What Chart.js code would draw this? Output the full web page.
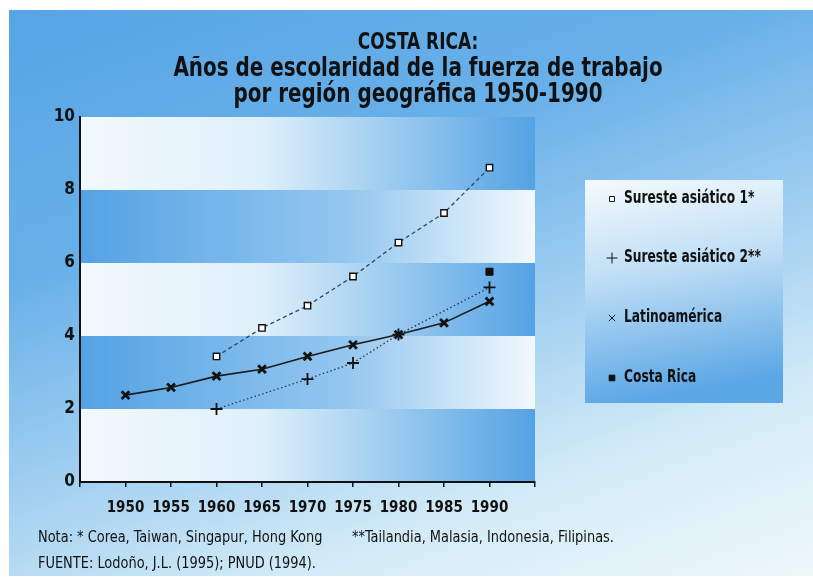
<!DOCTYPE html>
<html>
<head>
<meta charset="utf-8">
<script src="https://cdn.jsdelivr.net/npm/chart.js@4.4.0/dist/chart.umd.min.js"></script>
<style>
  html, body { margin: 0; padding: 0; }
  body { width: 813px; height: 581px; overflow: hidden; background: #fff; position: relative;
         font-family: "DejaVu Sans Condensed", "Liberation Sans Narrow", sans-serif; color: #111; }
  #panel { position: absolute; left: 9px; top: 10px; width: 804px; height: 566px;
           background: linear-gradient(160deg, #58a5e6 0%, #68b0e9 32%, #9dcdf0 55%, #d3ebf7 78%, #eef8fb 100%); }
  #chart { position: absolute; left: 0; top: 0; }
  .t { position: absolute; left: 0; width: 836px; text-align: center; font-weight: bold; white-space: nowrap;
       transform: scaleX(0.82); transform-origin: 50% 50%; }
  .note { position: absolute; left: 38px; font-size: 16px; white-space: nowrap;
          transform: scaleX(0.9); transform-origin: 0 50%; }
</style>
</head>
<body>
<div id="panel"></div>
<canvas id="chart" width="813" height="581"></canvas>
<div class="t" style="top:30px;font-size:23px;line-height:23px;">COSTA RICA:</div>
<div class="t" style="top:53px;font-size:27px;line-height:27px;">Años de escolaridad de la fuerza de trabajo</div>
<div class="t" style="top:79px;font-size:27px;line-height:27px;">por región geográfica 1950-1990</div>
<div class="note" style="top:527px;">Nota: * Corea, Taiwan, Singapur, Hong Kong<span style="position:absolute;left:349px;">**Tailandia, Malasia, Indonesia, Filipinas.</span></div>
<div class="note" style="top:553px;">FUENTE: Lodoño, J.L. (1995); PNUD (1994).</div>
<script>
document.addEventListener('DOMContentLoaded', () => {

// DATA
const years = [1950, 1955, 1960, 1965, 1970, 1975, 1980, 1985, 1990];
const sureste1 = [null, null, 3.44, 4.22, 4.83, 5.63, 6.56, 7.37, 8.61];
const sureste2 = [null, null, 2.0, null, 2.82, 3.26, 4.04, null, 5.33];
const latino = [2.38, 2.59, 2.90, 3.09, 3.44, 3.76, 4.04, 4.36, 4.95];
const costaRica = [null, null, null, null, null, null, null, null, 5.76];
const yTicks = [0, 2, 4, 6, 8, 10];

const FONT = '"DejaVu Sans Condensed", "Liberation Sans Narrow", sans-serif';
const BLUE = 'rgb(84, 162, 228)';
const LIGHT = 'rgb(242, 249, 253)';

function pts(arr) {
  return years.map((y, i) => ({ x: y, y: arr[i] }));
}

//BANDS BEHIND THE PLOT
const bands = {
  id: 'bands',
  beforeDraw(chart) {
    const { ctx, chartArea: a, scales: { y } } = chart;
    ctx.save();
    for (let i = 0; i < yTicks.length - 1; i++) {
      const top = y.getPixelForValue(yTicks[i + 1]);
      const bot = y.getPixelForValue(yTicks[i]);
      const g = ctx.createLinearGradient(a.left, 0, a.right, 0);
      if (i % 2 === 0) {
        g.addColorStop(0, LIGHT); g.addColorStop(0.4, 'rgb(222, 240, 250)'); g.addColorStop(1, BLUE);
      } else {
        g.addColorStop(0, BLUE); g.addColorStop(0.6, 'rgb(150, 200, 240)'); g.addColorStop(1, LIGHT);
      }
      ctx.fillStyle = g;
      ctx.fillRect(a.left, top, a.right - a.left, bot - top);
    }
    ctx.restore();
  }
};

//LEGEND BOX
const legendBox = {
  id: 'legendBox',
  afterDraw(chart) {
    const ctx = chart.ctx;
    const bx = 585, by = 180, bw = 198, bh = 223;
    ctx.save();
    const g = ctx.createLinearGradient(bx, by, bx + 40, by + bh);
    g.addColorStop(0, 'rgb(245, 250, 253)');
    g.addColorStop(0.45, 'rgb(190, 222, 245)');
    g.addColorStop(1, 'rgb(92, 167, 230)');
    ctx.fillStyle = g;
    ctx.fillRect(bx, by, bw, bh);
    const rows = [199, 258, 318, 378];
    chart.data.datasets.forEach((ds, i) => {
      const yy = rows[i];
      ctx.strokeStyle = '#111';
      ctx.fillStyle = ds.pointBackgroundColor;
      Chart.helpers.drawPoint(ctx, {
        pointStyle: ds.pointStyle, radius: ds.legendRadius, rotation: 0, borderWidth: 1.6
      }, 612, yy);
      ctx.save();
      ctx.translate(624, yy);
      ctx.scale(0.8, 1);
      ctx.fillStyle = '#111';
      ctx.font = 'bold 17px ' + FONT;
      ctx.textBaseline = 'middle';
      ctx.textAlign = 'left';
      ctx.fillText(ds.label, 0, 0);
      ctx.restore();
    });
    ctx.restore();
  }
};

var ctx1 = document.getElementById('chart').getContext('2d');

var chart1 = new Chart(ctx1, {
  type: 'line',
  data: {
    datasets: [{
      label: 'Sureste asiático 1*',
      data: pts(sureste1),
      borderColor: 'rgb(45, 70, 100)',
      borderWidth: 1.3,
      borderDash: [4, 3],
      pointStyle: 'rect',
      pointRadius: 4.5,
      legendRadius: 3.5,
      pointBackgroundColor: '#fff',
      pointBorderColor: '#111',
      pointBorderWidth: 1.4,
      spanGaps: true
    }, {
      label: 'Sureste asiático 2**',
      data: pts(sureste2),
      borderColor: 'rgb(40, 50, 70)',
      borderWidth: 1.3,
      borderDash: [1.5, 2.5],
      pointStyle: 'cross',
      pointRadius: 6,
      legendRadius: 5.5,
      pointBackgroundColor: '#111',
      pointBorderColor: '#111',
      pointBorderWidth: 1.8,
      spanGaps: true
    }, {
      label: 'Latinoamérica',
      data: pts(latino),
      borderColor: '#1a1a1a',
      borderWidth: 1.6,
      pointStyle: 'crossRot',
      pointRadius: 5.5,
      legendRadius: 4.5,
      pointBackgroundColor: '#111',
      pointBorderColor: '#111',
      pointBorderWidth: 2.8
    }, {
      label: 'Costa Rica',
      data: pts(costaRica),
      showLine: false,
      pointStyle: 'rect',
      pointRadius: 5,
      legendRadius: 4,
      pointBackgroundColor: '#111',
      pointBorderColor: '#111',
      pointBorderWidth: 1
    }]
  },
  options: {
    responsive: false,
    animation: false,
    layout: { padding: { left: 40, right: 278, top: 117, bottom: 59 } },
    plugins: { legend: { display: false }, tooltip: { enabled: false } },
    scales: {
      x: {
        type: 'linear', min: 1945, max: 1995,
        afterFit: (s) => { s.height = 40; },
        grid: { display: true, drawOnChartArea: false, drawTicks: true, tickLength: 5, color: '#111', lineWidth: 1.5 },
        border: { display: true, color: '#111', width: 2 },
        ticks: {
          stepSize: 5, autoSkip: false, maxRotation: 0, padding: 12, color: '#111',
          font: { family: FONT, size: 15, weight: 'bold' },
          callback: (v) => (v === 1945 || v === 1995) ? '' : String(v)
        }
      },
      y: {
        min: 0, max: 10,
        afterFit: (s) => { s.width = 40; },
        grid: { display: false, drawTicks: false },
        border: { display: true, color: '#111', width: 2 },
        ticks: {
          stepSize: 2, padding: 5, color: '#111',
          font: { family: FONT, size: 17, weight: 'bold' }
        }
      }
    }
  },
  plugins: [bands, legendBox]
});

});
</script>
</body>
</html>
